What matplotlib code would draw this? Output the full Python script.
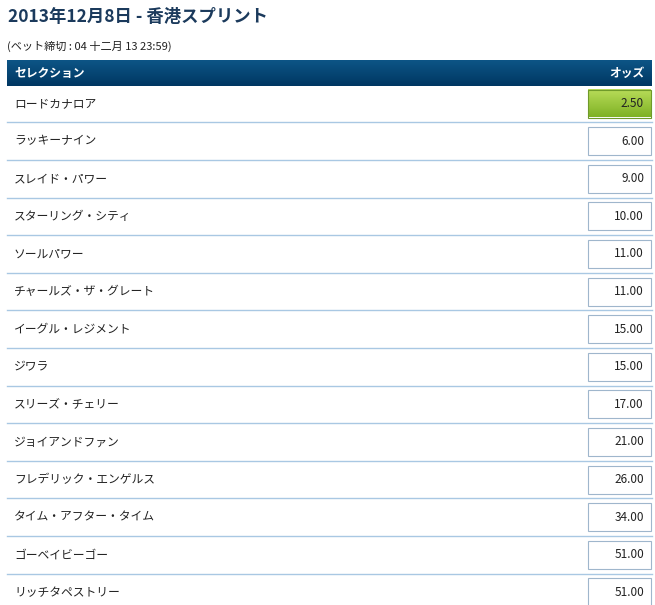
import numpy as np
import matplotlib.pyplot as plt
from matplotlib.patches import Rectangle

plt.rcParams["font.family"] = ["Noto Sans CJK JP", "DejaVu Sans"]

title = "2013年12月8日 - 香港スプリント"
subtitle = "(ベット締切 : 04 十二月 13 23:59)"
header_left = "セレクション"
header_right = "オッズ"
horses = ["ロードカナロア", "ラッキーナイン", "スレイド・パワー", "スターリング・シティ",
          "ソールパワー", "チャールズ・ザ・グレート", "イーグル・レジメント", "ジワラ",
          "スリーズ・チェリー", "ジョイアンドファン", "フレデリック・エンゲルス",
          "タイム・アフター・タイム", "ゴーベイビーゴー", "リッチタペストリー"]
odds = [2.50, 6.00, 9.00, 10.00, 11.00, 11.00, 15.00, 15.00, 17.00, 21.00,
        26.00, 34.00, 51.00, 51.00]

W, H = 655, 605
fig = plt.figure(figsize=(W / 100, H / 100), dpi=100)
ax = fig.add_axes([0, 0, 1, 1])
ax.set_xlim(0, W)
ax.set_ylim(H, 0)
ax.axis("off")

ax.text(8, 17, title, fontsize=12.5, fontweight="bold", color="#1b3a5c", va="center")
ax.text(7, 46, subtitle, fontsize=8, color="#222222", va="center")

# header bar with vertical gradient
grad = np.linspace(0, 1, 50).reshape(-1, 1)
ax.imshow(grad, extent=[7, 652, 86, 60], cmap=plt.matplotlib.colors.LinearSegmentedColormap.from_list(
    "hdr", ["#0d5586", "#003762"]), aspect="auto", zorder=1)
ax.text(14, 73, header_left, fontsize=8.5, fontweight="bold", color="white", va="center", zorder=2)
ax.text(645, 73, header_right, fontsize=8.5, fontweight="bold", color="white", va="center",
        ha="right", zorder=2)

green = plt.matplotlib.colors.LinearSegmentedColormap.from_list("g", ["#b8dc5a", "#7fb224"])
row_h = 37.6
for i, (name, o) in enumerate(zip(horses, odds)):
    cy = 103.5 + i * row_h
    ax.text(14, cy, name, fontsize=8.5, color="#222222", va="center")
    x0, x1, y0, y1 = 588, 651, cy - 14, cy + 14
    if i == 0:
        ax.imshow(grad, extent=[x0, x1, y1, y0], cmap=green, aspect="auto", zorder=1)
        ax.add_patch(Rectangle((x0, y0), x1 - x0, y1 - y0, fill=False, ec="#6f9a2a", lw=0.8, zorder=2))
    else:
        ax.add_patch(Rectangle((x0, y0), x1 - x0, y1 - y0, fc="white", ec="#9fb6cc", lw=0.8, zorder=2))
    ax.text(x1 - 7, cy, f"{o:.2f}", fontsize=8.5, color="#222222", va="center", ha="right", zorder=3)
    ly = cy + row_h / 2
    if ly < H:
        ax.plot([7, 652], [ly, ly], color="#a9c8e3", lw=1, zorder=1)

ax.set_xlim(0, W)
ax.set_ylim(H, 0)
fig.savefig("out.png", dpi=100)
